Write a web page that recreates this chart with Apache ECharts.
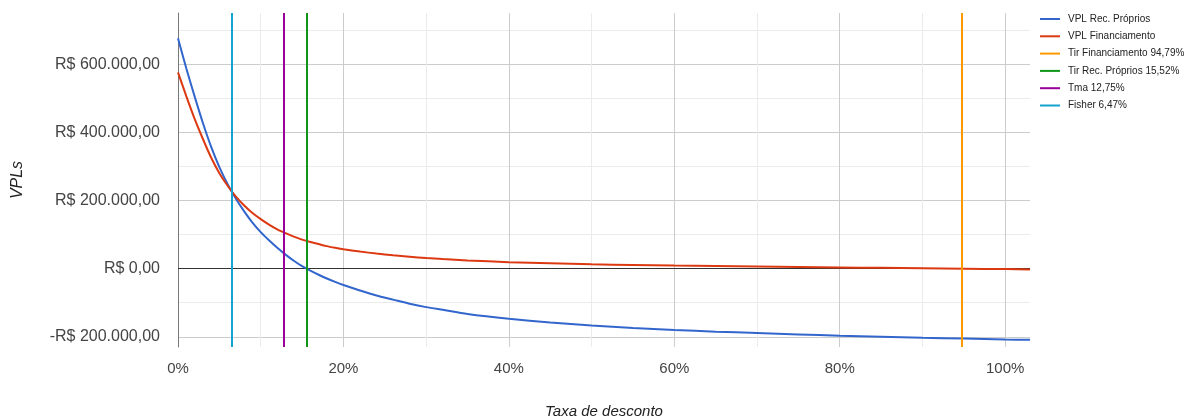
<!DOCTYPE html>
<html>
<head>
<meta charset="utf-8">
<script src="https://cdn.jsdelivr.net/npm/echarts@6/dist/echarts.min.js"></script>
<style>
html,body{margin:0;padding:0;background:#fff;}
#chart{width:1192px;height:418px;}
</style>
</head>
<body>
<div id="chart"></div>
<script>
// Discount rates (%) at which the curves were read
const discountRates = [0,1,2,3,4,5,6,7,8,9,10,11,12,13,14,15,16,17,18,19,20,22,24,26,28,30,32,35,40,45,50,55,60,65,70,75,80,85,90,95,100,103];
// NPV with own resources (R$)
const vplRecProprios = [676000,588000,506000,428000,358000,298000,248000,205000,168000,135000,107000,83000,61000,41000,23000,7000,-6000,-18000,-29000,-39000,-48000,-64000,-79000,-91000,-103000,-113000,-121000,-133000,-147000,-158000,-167000,-174000,-180000,-185000,-189000,-193000,-197000,-200000,-203000,-205000,-208000,-209000];
// NPV with financing (R$)
const vplFinanciamento = [576000,506000,440000,381000,326000,280000,243000,211000,185000,163000,145000,129000,115000,104000,94000,85000,78000,72000,66000,61000,57000,50000,44000,39000,35000,31000,28000,24000,19000,15500,12500,10500,8800,7300,5900,4500,3300,2200,1000,-100,-1500,-2300];
// Reference rates (vertical lines)
const refNames = ['Tir Financiamento', 'Tir Rec. Próprios', 'Tma', 'Fisher'];
const refRates = [94.79, 15.52, 12.75, 6.47];
const refColors = ['#ff9900', '#109618', '#990099', '#14a2cf'];
const curveNames = ['VPL Rec. Próprios', 'VPL Financiamento'];
const curveColors = ['#3366cc', '#dc3912'];

const FONT = '"Liberation Sans", Arial, sans-serif';

function brl(v) {
  const neg = v < 0;
  const s = Math.abs(v).toFixed(2).split('.');
  const intPart = s[0].replace(/\B(?=(\d{3})+(?!\d))/g, '.');
  return (neg ? '-' : '') + 'R$ ' + intPart + ',' + s[1];
}
function pct(v) { return v.toFixed(2).replace('.', ',') + '%'; }

const refLabels = refNames.map((n, i) => n + ' ' + pct(refRates[i]));

const series = [];
// y = 0 baseline
series.push({
  type: 'line', data: [], z: 1, silent: true,
  markLine: {
    z: 1,
    symbol: 'none', silent: true, label: {show: false},
    lineStyle: {color: '#333', width: 1, type: 'solid'},
    emphasis: {disabled: true},
    data: [{yAxis: 0}]
  }
});
[vplRecProprios, vplFinanciamento].forEach((vals, k) => {
  series.push({
    name: curveNames[k], type: 'line', z: 3,
    data: discountRates.map((r, i) => [r, vals[i]]),
    showSymbol: false, symbol: 'none',
    smooth: 0.25,
    color: curveColors[k],
    lineStyle: {color: curveColors[k], width: 2}
  });
});
refRates.forEach((r, i) => {
  series.push({
    name: refLabels[i], type: 'line', data: [], z: 4,
    color: refColors[i],
    lineStyle: {color: refColors[i], width: 2},
    markLine: {
      symbol: 'none', silent: true, label: {show: false},
      lineStyle: {color: refColors[i], width: 2, type: 'solid'},
      emphasis: {disabled: true},
      data: [{xAxis: r}]
    }
  });
});

const chart = echarts.init(document.getElementById('chart'), null, {renderer: 'canvas'});
chart.setOption({
  animation: false,
  backgroundColor: '#fff',
  textStyle: {fontFamily: FONT},
  grid: {left: 178, right: 162, top: 13, bottom: 71, containLabel: false, outerBoundsMode: 'none'},
  legend: {
    orient: 'vertical', left: 1040, top: 13, padding: 0,
    icon: 'rect', itemWidth: 20, itemHeight: 2, itemGap: 5.3,
    data: curveNames.concat(refLabels),
    textStyle: {fontSize: 10, color: '#222', fontFamily: FONT, lineHeight: 12, padding: [0, 0, 0, 3]}
  },
  xAxis: {
    type: 'value', min: 0, max: 103, splitNumber: 5, minInterval: 20, maxInterval: 20,
    name: 'Taxa de desconto', nameLocation: 'middle', nameGap: 57,
    nameTextStyle: {fontSize: 15, fontStyle: 'italic', color: '#222', fontFamily: FONT},
    axisLine: {show: false, onZero: false},
    axisTick: {show: false},
    axisLabel: {fontSize: 15, color: '#444', margin: 14, showMaxLabel: false,
      formatter: v => Math.round(v) + '%'},
    splitLine: {show: true, showMinLine: false, showMaxLine: false, lineStyle: {color: '#cccccc', width: 1}},
    minorTick: {show: false, splitNumber: 2},
    minorSplitLine: {show: true, lineStyle: {color: '#ebebeb', width: 1}}
  },
  yAxis: {
    type: 'value', min: -230000, max: 750000, splitNumber: 5, minInterval: 200000, maxInterval: 200000,
    name: 'VPLs', nameLocation: 'middle', nameGap: 152, nameRotate: 90,
    nameTextStyle: {fontSize: 16, fontStyle: 'italic', color: '#222', fontFamily: FONT},
    axisLine: {show: true, onZero: false, lineStyle: {color: '#777', width: 1}},
    axisTick: {show: false},
    axisLabel: {fontSize: 16, color: '#444', margin: 18, showMinLabel: false, showMaxLabel: false,
      formatter: v => brl(v)},
    splitLine: {show: true, showMinLine: false, showMaxLine: false, lineStyle: {color: '#cccccc', width: 1}},
    minorTick: {show: false, splitNumber: 2},
    minorSplitLine: {show: true, lineStyle: {color: '#ebebeb', width: 1}}
  },
  series: series
});
</script>
</body>
</html>
